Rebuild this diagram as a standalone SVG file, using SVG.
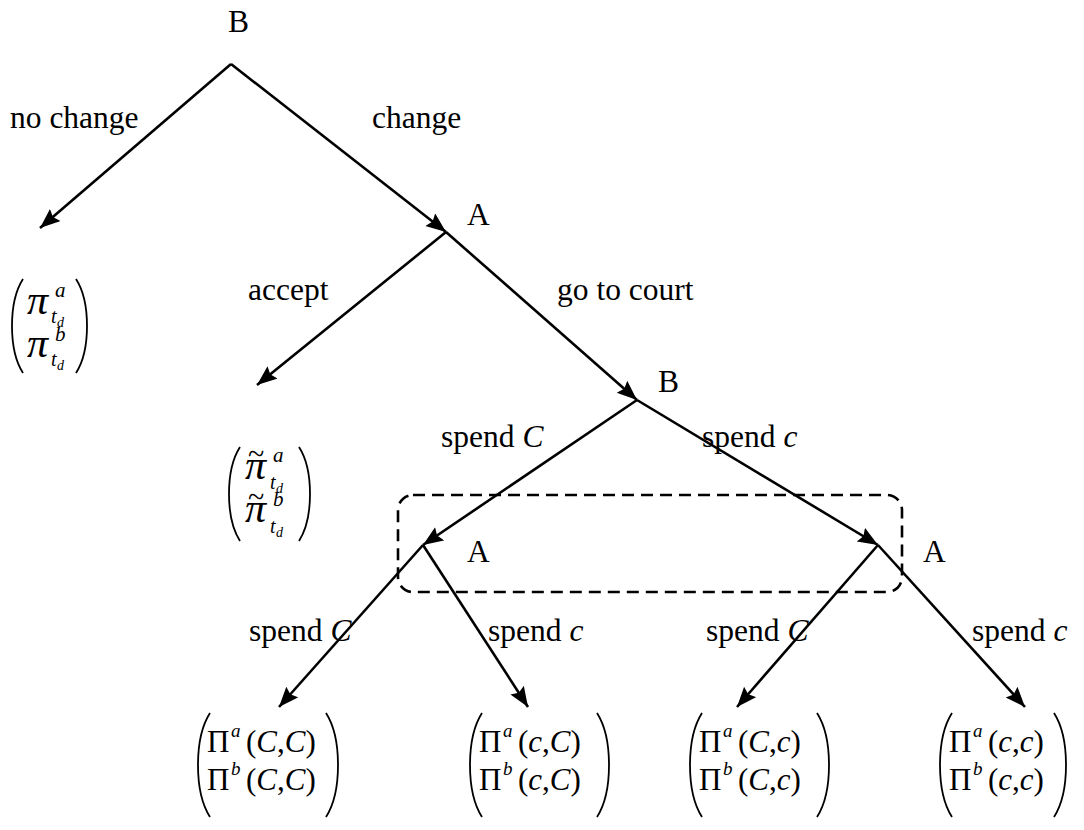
<svg xmlns="http://www.w3.org/2000/svg" width="1084" height="830" viewBox="0 0 1084 830">
  <style>
    text { font-family: "Liberation Serif", "Times New Roman", serif; fill: #000; }
    .lbl { font-size: 31.5px; }
    .i { font-style: italic; }
    .m { font-size: 31px; }
    .sup { font-size: 19px; font-style: italic; }
    .vsup { font-size: 21px; font-style: italic; }
    .pi { font-size: 42px; font-style: italic; }
    .tl { font-size: 30px; }
    .sub { font-size: 20px; font-style: italic; }
    .subsub { font-size: 14px; font-style: italic; }
    .edge { stroke: #000; stroke-width: 2.6; fill: none; marker-end: url(#head); }
    .paren { stroke: #000; stroke-width: 1.8; fill: none; }
    .info { stroke: #000; stroke-width: 2.6; fill: none; stroke-dasharray: 12 7; }
  </style>
  <defs>
    <marker id="head" markerUnits="userSpaceOnUse" markerWidth="22" markerHeight="18" refX="20" refY="8" orient="auto">
      <path d="M0,0 L20,8 L0,16 L3,8 z" fill="#000"/>
    </marker>
  </defs>
  <rect width="1084" height="830" fill="#fff"/>

  <!-- branches of the game tree -->
  <g id="connectors">
    <line class="edge" x1="231" y1="64" x2="40" y2="228"/>
    <line class="edge" x1="231" y1="64" x2="446" y2="232"/>
    <line class="edge" x1="446" y1="232" x2="257" y2="385"/>
    <line class="edge" x1="446" y1="232" x2="637" y2="400"/>
    <line class="edge" x1="637" y1="400" x2="423" y2="545"/>
    <line class="edge" x1="637" y1="400" x2="878" y2="545"/>
    <line class="edge" x1="423" y1="545" x2="279" y2="707"/>
    <line class="edge" x1="423" y1="545" x2="528" y2="707"/>
    <line class="edge" x1="878" y1="545" x2="737" y2="707"/>
    <line class="edge" x1="878" y1="545" x2="1025" y2="707"/>
    <!-- information set joining A's two decision points -->
    <rect class="info" x="398" y="495" width="504" height="97" rx="15" ry="15"/>
  </g>

  <!-- action labels -->
  <g id="edge-labels">
    <text class="lbl" x="10" y="128">no change</text>
    <text class="lbl" x="372" y="128">change</text>
    <text class="lbl" x="248" y="300">accept</text>
    <text class="lbl" x="557" y="300">go to court</text>
    <text class="lbl" x="441" y="447">spend <tspan class="i">C</tspan></text>
    <text class="lbl" x="702" y="447">spend <tspan class="i">c</tspan></text>
    <text class="lbl" x="249" y="641">spend <tspan class="i">C</tspan></text>
    <text class="lbl" x="488" y="641">spend <tspan class="i">c</tspan></text>
    <text class="lbl" x="706" y="641">spend <tspan class="i">C</tspan></text>
    <text class="lbl" x="972" y="641">spend <tspan class="i">c</tspan></text>
  </g>

  <!-- decision nodes -->
  <g id="node-root-B"><text class="lbl" x="228" y="32">B</text></g>
  <g id="node-A1"><text class="lbl" x="467" y="225">A</text></g>
  <g id="node-B2"><text class="lbl" x="658" y="392">B</text></g>
  <g id="node-A-left"><text class="lbl" x="467" y="562">A</text></g>
  <g id="node-A-right"><text class="lbl" x="923" y="562">A</text></g>

  <!-- payoff: no change -->
  <g id="payoff-nochange">
    <path class="paren" d="M23,279 C14,293 12,310 12,326 C12,342 14,359 23,373"/>
    <path class="paren" d="M76,279 C85,293 87,310 87,326 C87,342 85,359 76,373"/>
    <text class="pi" x="27" y="314">π</text>
    <text class="vsup" x="55" y="297">a</text>
    <text class="sub" x="51" y="323">t</text>
    <text class="subsub" x="57" y="327">d</text>
    <text class="pi" x="27" y="357">π</text>
    <text class="vsup" x="55" y="341">b</text>
    <text class="sub" x="51" y="366">t</text>
    <text class="subsub" x="57" y="370">d</text>
  </g>

  <!-- payoff: accept -->
  <g id="payoff-accept">
    <path class="paren" d="M240,447 C231,461 229,478 229,494 C229,510 231,527 240,541"/>
    <path class="paren" d="M299,447 C308,461 310,478 310,494 C310,510 308,527 299,541"/>
    <text class="tl" x="248" y="464">~</text>
    <text class="pi" x="245" y="479">π</text>
    <text class="vsup" x="273" y="462">a</text>
    <text class="sub" x="270" y="489">t</text>
    <text class="subsub" x="276" y="493">d</text>
    <text class="tl" x="248" y="507">~</text>
    <text class="pi" x="245" y="522">π</text>
    <text class="vsup" x="273" y="506">b</text>
    <text class="sub" x="270" y="533">t</text>
    <text class="subsub" x="276" y="537">d</text>
  </g>

  <!-- terminal payoffs -->
  <g id="payoff-CC">
    <path class="paren" d="M210,713 C201,727 198,746 198,765 C198,784 201,803 210,817"/>
    <path class="paren" d="M326,713 C335,727 338,746 338,765 C338,784 335,803 326,817"/>
    <text class="m" x="207" y="752">Π</text>
    <text class="sup" x="231" y="737">a</text>
    <text class="m" x="246" y="752">(<tspan class="i">C</tspan>,<tspan class="i">C</tspan>)</text>
    <text class="m" x="207" y="790">Π</text>
    <text class="sup" x="231" y="775">b</text>
    <text class="m" x="246" y="790">(<tspan class="i">C</tspan>,<tspan class="i">C</tspan>)</text>
  </g>
  <g id="payoff-cC">
    <path class="paren" d="M482,713 C473,727 470,746 470,765 C470,784 473,803 482,817"/>
    <path class="paren" d="M597,713 C606,727 609,746 609,765 C609,784 606,803 597,817"/>
    <text class="m" x="479" y="752">Π</text>
    <text class="sup" x="503" y="737">a</text>
    <text class="m" x="518" y="752">(<tspan class="i">c</tspan>,<tspan class="i">C</tspan>)</text>
    <text class="m" x="479" y="790">Π</text>
    <text class="sup" x="503" y="775">b</text>
    <text class="m" x="518" y="790">(<tspan class="i">c</tspan>,<tspan class="i">C</tspan>)</text>
  </g>
  <g id="payoff-Cc">
    <path class="paren" d="M702,713 C693,727 690,746 690,765 C690,784 693,803 702,817"/>
    <path class="paren" d="M817,713 C826,727 829,746 829,765 C829,784 826,803 817,817"/>
    <text class="m" x="699" y="752">Π</text>
    <text class="sup" x="723" y="737">a</text>
    <text class="m" x="738" y="752">(<tspan class="i">C</tspan>,<tspan class="i">c</tspan>)</text>
    <text class="m" x="699" y="790">Π</text>
    <text class="sup" x="723" y="775">b</text>
    <text class="m" x="738" y="790">(<tspan class="i">C</tspan>,<tspan class="i">c</tspan>)</text>
  </g>
  <g id="payoff-cc">
    <path class="paren" d="M952,713 C943,727 940,746 940,765 C940,784 943,803 952,817"/>
    <path class="paren" d="M1054,713 C1063,727 1066,746 1066,765 C1066,784 1063,803 1054,817"/>
    <text class="m" x="949" y="752">Π</text>
    <text class="sup" x="973" y="737">a</text>
    <text class="m" x="988" y="752">(<tspan class="i">c</tspan>,<tspan class="i">c</tspan>)</text>
    <text class="m" x="949" y="790">Π</text>
    <text class="sup" x="973" y="775">b</text>
    <text class="m" x="988" y="790">(<tspan class="i">c</tspan>,<tspan class="i">c</tspan>)</text>
  </g>
</svg>
